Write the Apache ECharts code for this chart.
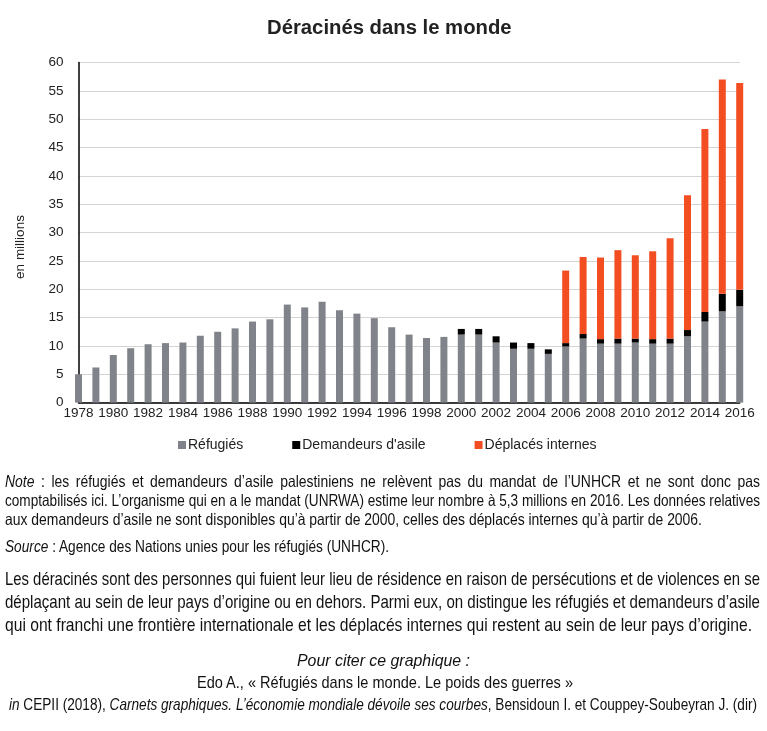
<!DOCTYPE html>
<html>
<head>
<meta charset="utf-8">
<script src="https://cdn.jsdelivr.net/npm/echarts@6/dist/echarts.min.js"></script>
<style>
  html, body { margin: 0; padding: 0; background: #fff; }
  #wrap { position: relative; width: 767px; height: 731px; overflow: hidden; }
  #chart { position: absolute; left: 0; top: 0; width: 767px; height: 731px; }
  .ln { position: absolute; transform-origin: 0 0; white-space: nowrap; font-family: "Liberation Sans", Arial, sans-serif; color: #111; }
  .jl { white-space: normal; text-align: justify; text-align-last: justify; }
  .measure { position: absolute; visibility: hidden; white-space: nowrap; font-family: "Liberation Sans", Arial, sans-serif; }
</style>
</head>
<body>
<div id="wrap">
  <div id="chart"></div>
</div>
<script>
// ---- chart data ----
const years = ['1978','1979','1980','1981','1982','1983','1984','1985','1986','1987','1988','1989','1990','1991','1992','1993','1994','1995','1996','1997','1998','1999','2000','2001','2002','2003','2004','2005','2006','2007','2008','2009','2010','2011','2012','2013','2014','2015','2016'];
const refugies = [5.0,6.2,8.4,9.6,10.3,10.5,10.6,11.8,12.5,13.1,14.3,14.7,17.3,16.8,17.8,16.3,15.7,14.9,13.3,12.0,11.4,11.6,12.0,12.0,10.6,9.5,9.5,8.6,9.9,11.3,10.4,10.4,10.6,10.4,10.4,11.7,14.3,16.1,17.0];
const demandeursAsile = [null,null,null,null,null,null,null,null,null,null,null,null,null,null,null,null,null,null,null,null,null,null,1.0,1.0,1.1,1.1,1.0,0.8,0.6,0.8,0.8,0.9,0.7,0.8,0.9,1.1,1.7,3.1,2.9];
const deplacesInternes = [null,null,null,null,null,null,null,null,null,null,null,null,null,null,null,null,null,null,null,null,null,null,null,null,null,null,null,null,12.8,13.6,14.4,15.6,14.7,15.5,17.7,23.8,32.3,37.8,36.5];
const seriesNames = ['Réfugiés', "Demandeurs d'asile", 'Déplacés internes'];
const colors = ['#80848a', '#000000', '#f24e22'];

// ---- text below the chart ----
const noteLines = [
  '<i>Note</i> : les réfugiés et demandeurs d’asile palestiniens ne relèvent pas du mandat de l’UNHCR et ne sont donc pas',
  'comptabilisés ici. L’organisme qui en a le mandat (UNRWA) estime leur nombre à 5,3 millions en 2016. Les données relatives',
  'aux demandeurs d’asile ne sont disponibles qu’à partir de 2000, celles des déplacés internes qu’à partir de 2006.'
];
const sourceLine = '<i>Source</i> : Agence des Nations unies pour les réfugiés (UNHCR).';
const paraLines = [
  'Les déracinés sont des personnes qui fuient leur lieu de résidence en raison de persécutions et de violences en se',
  'déplaçant au sein de leur pays d’origine ou en dehors. Parmi eux, on distingue les réfugiés et demandeurs d’asile',
  'qui ont franchi une frontière internationale et les déplacés internes qui restent au sein de leur pays d’origine.'
];
const citeLines = [
  '<i>Pour citer ce graphique :</i>',
  'Edo A., « Réfugiés dans le monde. Le poids des guerres »',
  '<i>in</i> CEPII (2018), <i>Carnets graphiques. L’économie mondiale dévoile ses courbes</i>, Bensidoun I. et Couppey-Soubeyran J. (dir)'
];

const wrap = document.getElementById('wrap');
function measure(html, size) {
  const s = document.createElement('span');
  s.className = 'measure'; s.style.fontSize = size + 'px'; s.innerHTML = html;
  document.body.appendChild(s);
  const w = s.getBoundingClientRect().width;
  s.remove();
  return w;
}
// place one line: x = left, yc = vertical centre, size, lh, target = rendered width, justify
function line(html, o) {
  const nat = measure(html, o.size);
  let sc = o.target / nat;
  if (o.maxScale) sc = Math.min(sc, o.maxScale);
  const d = document.createElement('div');
  d.className = 'ln' + (o.justify ? ' jl' : '');
  d.style.fontSize = o.size + 'px';
  d.style.lineHeight = o.lh + 'px';
  d.style.top = (o.yc - o.lh / 2) + 'px';
  let left = o.left;
  if (o.centerX !== undefined) left = o.centerX - o.target / 2;
  d.style.left = left + 'px';
  if (o.justify) d.style.width = (o.target / sc) + 'px';
  d.style.transform = 'scaleX(' + sc + ')';
  d.innerHTML = html;
  wrap.appendChild(d);
  return sc;
}
// Note block
const NS = 16.5;
const sNote = line(noteLines[2], { left: 5, yc: 519, size: NS, lh: 19, target: 697 });
line(noteLines[0], { left: 5, yc: 481, size: NS, lh: 19, target: 755, justify: true, maxScale: sNote });
line(noteLines[1], { left: 5, yc: 500, size: NS, lh: 19, target: 755, justify: true, maxScale: sNote });
line(sourceLine, { left: 5, yc: 546, size: NS, lh: 19, target: 384 });
// Paragraph
const PS = 18.5;
const sPara = line(paraLines[2], { left: 5, yc: 624, size: PS, lh: 23, target: 747 });
line(paraLines[0], { left: 5, yc: 578, size: PS, lh: 23, target: 755, justify: true, maxScale: sPara });
line(paraLines[1], { left: 5, yc: 601, size: PS, lh: 23, target: 755, justify: true, maxScale: sPara });
// Citation (centred)
const CS = 17;
line(citeLines[0], { centerX: 383.5, yc: 661, size: CS, lh: 22, target: 173 });
line(citeLines[1], { centerX: 385, yc: 683, size: CS, lh: 22, target: 376 });
line(citeLines[2], { centerX: 383, yc: 705, size: CS, lh: 22, target: 748 });

// ---- chart ----
const FONT = '"Liberation Sans", Arial, sans-serif';
const chart = echarts.init(document.getElementById('chart'), null, { renderer: 'canvas' });
chart.setOption({
  animation: false,
  backgroundColor: 'transparent',
  color: colors,
  title: {
    text: 'Déracinés dans le monde',
    left: 262, top: 13,
    textStyle: { fontFamily: FONT, fontSize: 20.3, fontWeight: 'bold', color: '#222' }
  },
  legend: {
    data: seriesNames,
    left: 173, top: 433,
    icon: 'rect', itemWidth: 8, itemHeight: 8, itemGap: 49,
    textStyle: { fontFamily: FONT, fontSize: 14, color: '#222', padding: [0, 0, 0, -3] }
  },
  grid: { left: 78.5, right: 27.3, top: 62.6, bottom: 328.4, containLabel: false },
  xAxis: {
    type: 'category', data: years, boundaryGap: false,
    axisLine: { show: true, lineStyle: { color: '#000', width: 1.5 } },
    axisTick: { show: false },
    splitLine: { show: false },
    axisLabel: { fontFamily: FONT, fontSize: 13.5, color: '#222', margin: 4, interval: 1 }
  },
  yAxis: {
    type: 'value', min: 0, max: 60, interval: 5,
    axisLine: { show: true, lineStyle: { color: '#000', width: 1.5 } },
    axisTick: { show: false },
    splitLine: { show: true, lineStyle: { color: '#d4d4d4', width: 1 } },
    axisLabel: { fontFamily: FONT, fontSize: 13.5, color: '#222', margin: 15 }
  },
  graphic: [{
    type: 'text', x: 20, y: 247, rotation: Math.PI / 2,
    style: { text: 'en millions', fontFamily: FONT, fontSize: 13.5, fill: '#222', align: 'center', verticalAlign: 'middle' }
  }],
  series: [
    { name: seriesNames[0], type: 'bar', stack: 'total', barWidth: 7, clip: true, data: refugies },
    { name: seriesNames[1], type: 'bar', stack: 'total', barWidth: 7, clip: true, data: demandeursAsile },
    { name: seriesNames[2], type: 'bar', stack: 'total', barWidth: 7, clip: true, data: deplacesInternes }
  ]
});
</script>
</body>
</html>
